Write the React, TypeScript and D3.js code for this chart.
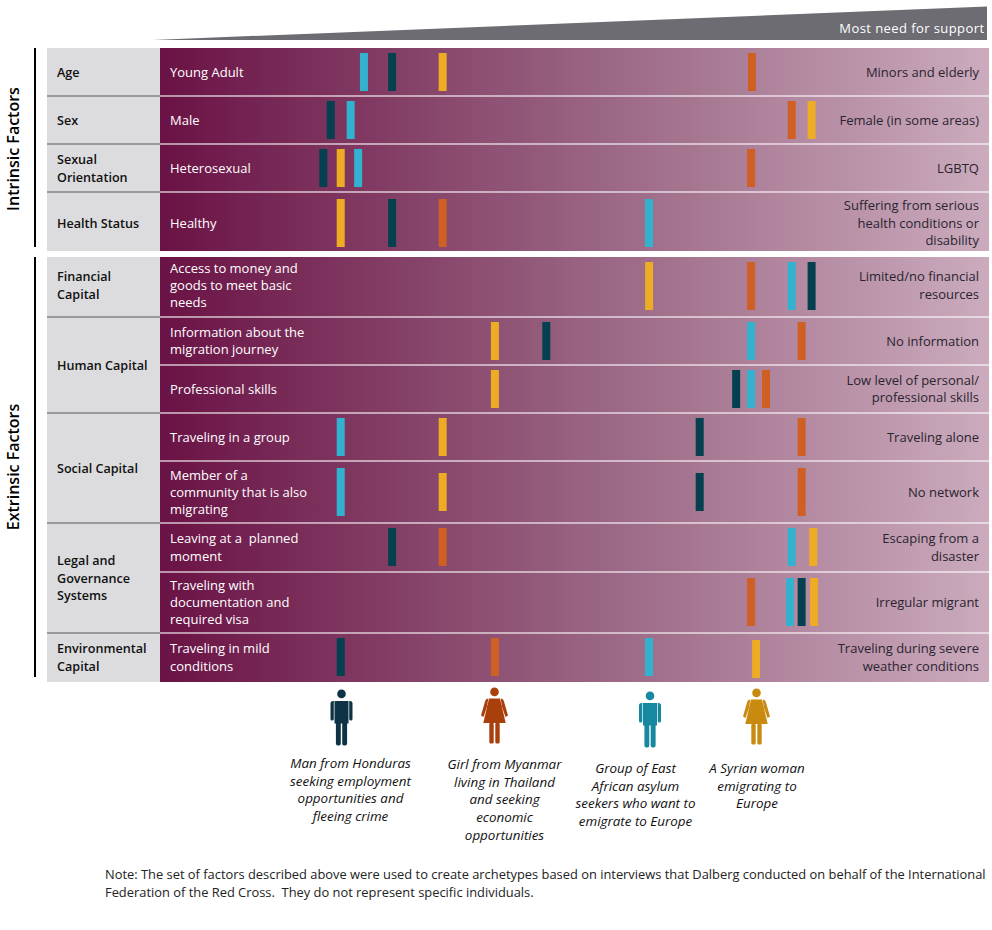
import React from "react";
import * as d3 from "d3";

const factorGroups = [
  { name: "Age", first: 0, last: 0 },
  { name: "Sex", first: 1, last: 1 },
  { name: "Sexual\nOrientation", first: 2, last: 2 },
  { name: "Health Status", first: 3, last: 3 },
  { name: "Financial\nCapital", first: 4, last: 4 },
  { name: "Human Capital", first: 5, last: 6 },
  { name: "Social Capital", first: 7, last: 8 },
  { name: "Legal and\nGovernance\nSystems", first: 9, last: 10 },
  { name: "Environmental\nCapital", first: 11, last: 11 },
];
const leastLabels = [
  "Young Adult", "Male", "Heterosexual", "Healthy",
  "Access to money and\ngoods to meet basic\nneeds",
  "Information about the\nmigration journey",
  "Professional skills",
  "Traveling in a group",
  "Member of a\ncommunity that is also\nmigrating",
  "Leaving at a  planned\nmoment",
  "Traveling with\ndocumentation and\nrequired visa",
  "Traveling in mild\nconditions",
];
const mostLabels = [
  "Minors and elderly", "Female (in some areas)", "LGBTQ",
  "Suffering from serious\nhealth conditions or\ndisability",
  "Limited/no financial\nresources",
  "No information",
  "Low level of personal/\nprofessional skills",
  "Traveling alone",
  "No network",
  "Escaping from a\ndisaster",
  "Irregular migrant",
  "Traveling during severe\nweather conditions",
];

// need-for-support position, 0-100 along the gradient band
const honduras = [28.0, 20.6, 19.7, 28.0, 78.6, 46.6, 69.5, 65.1, 65.1, 28.0, 77.4, 21.8];
const myanmar = [71.4, 76.2, 71.3, 34.1, 71.3, 77.4, 73.1, 77.4, 77.4, 34.1, 71.3, 40.4];
const eastAfrica = [24.6, 23.0, 23.9, 59.0, 76.2, 71.3, 71.3, 21.8, 21.8, 76.2, 76.0, 59.0];
const syrian = [34.1, 78.6, 21.8, 21.8, 59.0, 40.4, 40.4, 34.1, 34.1, 78.8, 78.9, 71.9];

const rowEdges = [48, 96, 144, 192, 257, 317, 365, 413, 461, 523, 572, 633, 682];
const rowCenters = [72.5, 120.5, 168.5, 223, 286, 341, 389, 437, 492.5, 547.5, 602.5, 657.5];
const tallRows = [3, 4, 10];

const archetypes = [
  { values: honduras, color: "#04404f", figure: "#0f3346", sex: "m", cx: 341.5, top: 689.5, lines: ["Man from Honduras", "seeking employment", "opportunities and", "fleeing crime"], tx: 350.5, ty: 768, tallMember: false, envShift: 0 },
  { values: myanmar, color: "#cf5f22", figure: "#a9400c", sex: "f", cx: 494.5, top: 687.5, lines: ["Girl from Myanmar", "living in Thailand", "and seeking", "economic", "opportunities"], tx: 504.5, ty: 769, tallMember: true, envShift: 0 },
  { values: eastAfrica, color: "#33b2d0", figure: "#16889f", sex: "m", cx: 650, top: 691.5, lines: ["Group of East", "African asylum", "seekers who want to", "emigrate to Europe"], tx: 635.5, ty: 773, tallMember: true, envShift: 0 },
  { values: syrian, color: "#eeab24", figure: "#c98a10", sex: "f", cx: 756.5, top: 688.5, lines: ["A Syrian woman", "emigrating to", "Europe"], tx: 757, ty: 773, tallMember: false, envShift: 2 },
];

const noteLines = [
  "Note: The set of factors described above were used to create archetypes based on interviews that Dalberg conducted on behalf of the International",
  "Federation of the Red Cross.  They do not represent specific individuals.",
];

const FONT = "'Open Sans', 'Noto Sans', sans-serif";
const BAND_L = 160;
const BAND_R = 989;
const GREY_L = 47;
const LH = 17.2;
const MEMBER_ROW = 8;
const ENV_ROW = 11;

function Multi({ text, x, cy, anchor, fill, weight, size }: any) {
  const lines = text.split("\n");
  const y0 = cy - ((lines.length - 1) * LH) / 2 + 4.5;
  return (
    <text x={x} textAnchor={anchor} fill={fill} fontWeight={weight} fontSize={size} fontFamily={FONT}>
      {lines.map((l: string, i: number) => (
        <tspan key={i} x={x} y={y0 + i * LH} xmlSpace="preserve">{l}</tspan>
      ))}
    </text>
  );
}

function Figure({ a }: any) {
  const c = a.figure;
  const t = a.top;
  const x = a.cx;
  if (a.sex === "m") {
    return (
      <g fill={c}>
        <circle cx={x} cy={t + 4.4} r={4.3} />
        <path d={`M${x - 7} ${t + 11.5} H${x + 7} V${t + 34} H${x + 5.6} V${t + 54} Q${x + 5.6} ${t + 56} ${x + 3.6} ${t + 56} H${x + 2.4} Q${x + 0.7} ${t + 56} ${x + 0.7} ${t + 54} V${t + 34} H${x - 0.7} V${t + 54} Q${x - 0.7} ${t + 56} ${x - 2.4} ${t + 56} H${x - 3.6} Q${x - 5.6} ${t + 56} ${x - 5.6} ${t + 54} V${t + 34} H${x - 7} Z`} />
        <path d={`M${x - 7.7} ${t + 11.5} H${x - 8.5} Q${x - 11} ${t + 11.5} ${x - 11} ${t + 14} V${t + 29.5} Q${x - 11} ${t + 31} ${x - 9.5} ${t + 31} Q${x - 7.7} ${t + 31} ${x - 7.7} ${t + 29.5} Z`} />
        <path d={`M${x + 7.7} ${t + 11.5} H${x + 8.5} Q${x + 11} ${t + 11.5} ${x + 11} ${t + 14} V${t + 29.5} Q${x + 11} ${t + 31} ${x + 9.5} ${t + 31} Q${x + 7.7} ${t + 31} ${x + 7.7} ${t + 29.5} Z`} />
      </g>
    );
  }
  return (
    <g fill={c}>
      <circle cx={x} cy={t + 4.4} r={4.3} />
      <path d={`M${x - 5.5} ${t + 11} H${x + 5.5} L${x + 11.2} ${t + 35.5} H${x - 11.2} Z`} />
      <path d={`M${x - 6.2} ${t + 11} L${x - 8} ${t + 11.5} Q${x - 9} ${t + 12} ${x - 9.5} ${t + 14} L${x - 13.5} ${t + 28} L${x - 11} ${t + 29.5} L${x - 7.4} ${t + 19} Z`} />
      <path d={`M${x + 6.2} ${t + 11} L${x + 8} ${t + 11.5} Q${x + 9} ${t + 12} ${x + 9.5} ${t + 14} L${x + 13.5} ${t + 28} L${x + 11} ${t + 29.5} L${x + 7.4} ${t + 19} Z`} />
      <rect x={x - 5.2} y={t + 35} width={4.4} height={21} rx={1.6} />
      <rect x={x + 0.8} y={t + 35} width={4.4} height={21} rx={1.6} />
    </g>
  );
}

export default function App() {
  const x = d3.scaleLinear().domain([0, 100]).range([BAND_L, BAND_R]);
  const barHeight = (i: number, tallMember: boolean) =>
    tallRows.includes(i) || (i === MEMBER_ROW && tallMember) ? 48 : 38;
  const groupCenter = (g: any) =>
    g.first === g.last
      ? rowCenters[g.first]
      : (rowEdges[g.first] + rowEdges[g.last + 1]) / 2;
  const groupY = (g: any) => (g.name === "Financial\nCapital" ? 285.5 : groupCenter(g));
  return (
    <svg width={992} height={930} style={{ position: "absolute", left: 0, top: 0, background: "#fff" }}>
      <defs>
        <linearGradient id="band" x1="0" x2="1" y1="0" y2="0">
          <stop offset="0" stopColor="#6a1245" />
          <stop offset="0.5" stopColor="#97617f" />
          <stop offset="1" stopColor="#cbabbd" />
        </linearGradient>
      </defs>

      {/* wedge */}
      <path d="M153 40 L987 6.5 V40 Z" fill="#6c6c72" />
      <text x={984.5} y={33} textAnchor="end" fill="#fff" fontSize={13} letterSpacing={0.42} fontFamily={FONT}>Most need for support</text>

      {/* side brackets */}
      <rect x={34} y={48} width={2} height={199} fill="#000" />
      <rect x={34} y={257} width={2} height={420} fill="#000" />
      <text transform="translate(19,149) rotate(-90)" textAnchor="middle" fontSize={16} fontWeight={600} fontFamily={FONT} fill="#000">Intrinsic Factors</text>
      <text transform="translate(19,467) rotate(-90)" textAnchor="middle" fontSize={16} fontWeight={600} fontFamily={FONT} fill="#000">Extrinsic Factors</text>

      {/* grey + gradient bands */}
      <rect x={GREY_L} y={48} width={BAND_L - GREY_L} height={203} fill="#dcdcde" />
      <rect x={GREY_L} y={257} width={BAND_L - GREY_L} height={425} fill="#dcdcde" />
      <rect x={BAND_L} y={48} width={BAND_R - BAND_L} height={203} fill="url(#band)" />
      <rect x={BAND_L} y={257} width={BAND_R - BAND_L} height={425} fill="url(#band)" />

      {/* separators */}
      {rowEdges.slice(1, -1).map((y, i) => {
        if (y === 257) return null;
        return <rect key={i} x={BAND_L} y={y - 1} width={BAND_R - BAND_L} height={2} fill="#fff" opacity={0.55} />;
      })}
      {factorGroups.slice(0, -1).map((g, i) => {
        const y = rowEdges[g.last + 1];
        if (y === 257) return null;
        return <rect key={i} x={GREY_L} y={y - 1} width={BAND_L - GREY_L} height={2} fill="#9a9a9c" />;
      })}

      {/* factor names */}
      {factorGroups.map((g, i) => (
        <Multi key={i} text={g.name} x={57} cy={groupY(g)} anchor="start" fill="#111" weight={600} size={12.6} />
      ))}

      {/* end labels */}
      {leastLabels.map((t, i) => (
        <Multi key={i} text={t} x={170} cy={i === 4 ? 285.5 : rowCenters[i]} anchor="start" fill="#fff" weight={400} size={13} />
      ))}
      {mostLabels.map((t, i) => (
        <Multi key={i} text={t} x={979} cy={i === 4 ? 285.5 : rowCenters[i]} anchor="end" fill="#2a2430" weight={400} size={13} />
      ))}

      {/* markers */}
      {archetypes.map((a, k) =>
        a.values.map((v, i) => {
          const h = barHeight(i, a.tallMember);
          return (
            <rect
              key={k + "-" + i}
              x={x(v) - 4}
              y={Math.floor(rowCenters[i] - h / 2) + (i === ENV_ROW ? a.envShift : 0)}
              width={8}
              height={h}
              fill={a.color}
            />
          );
        })
      )}

      {/* archetype figures and captions */}
      {archetypes.map((a, k) => (
        <g key={k}>
          <Figure a={a} />
          <text textAnchor="middle" fontSize={13.4} fontStyle="italic" fontFamily={FONT} fill="#111">
            {a.lines.map((l, i) => (
              <tspan key={i} x={a.tx} y={a.ty + i * 17.7}>{l}</tspan>
            ))}
          </text>
        </g>
      ))}

      {/* note */}
      <text fontSize={12.88} fontFamily={FONT} fill="#222">
        {noteLines.map((l, i) => (
          <tspan key={i} x={105} y={879 + i * 17.5} xmlSpace="preserve">{l}</tspan>
        ))}
      </text>
    </svg>
  );
}
